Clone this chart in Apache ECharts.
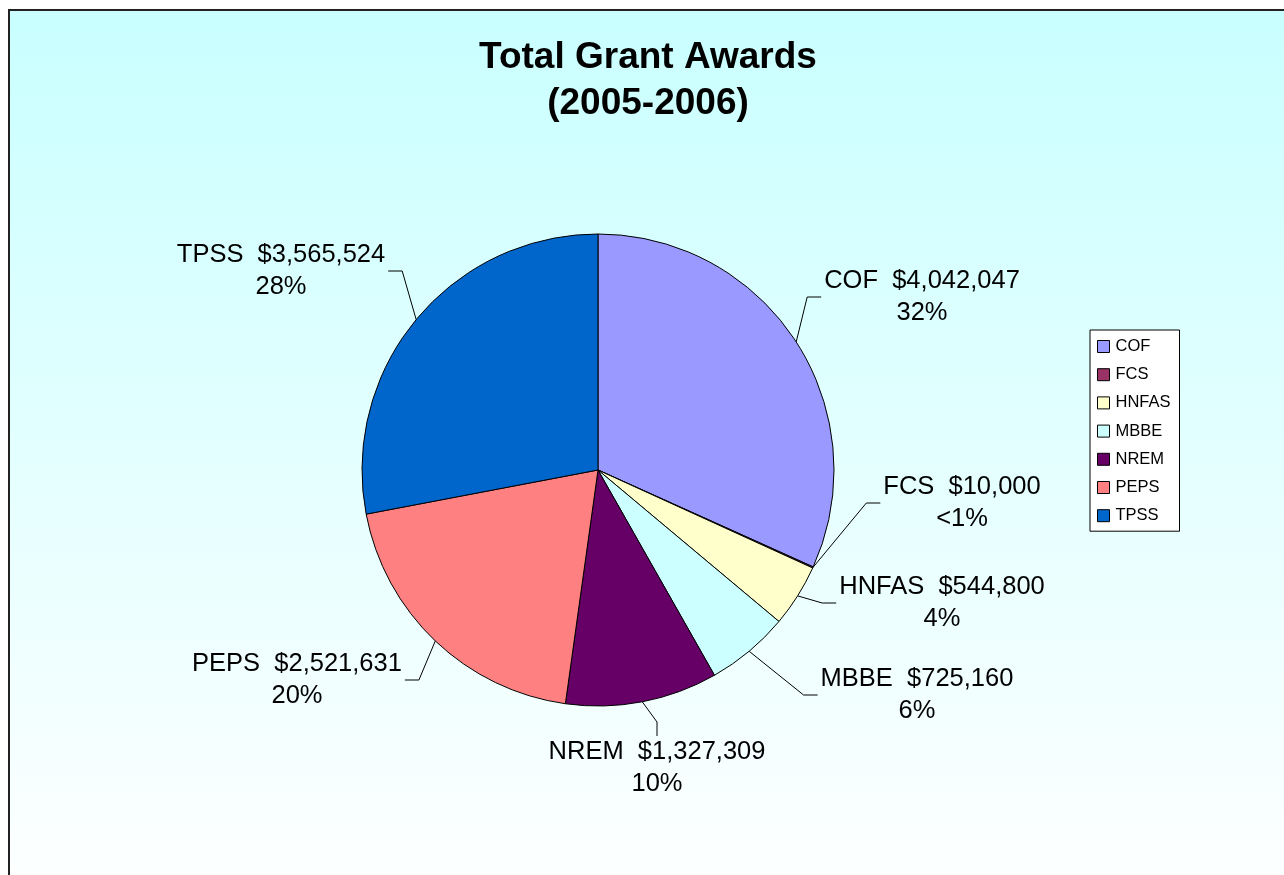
<!DOCTYPE html>
<html>
<head>
<meta charset="utf-8">
<title>Total Grant Awards</title>
<script src="https://cdn.jsdelivr.net/npm/echarts@6/dist/echarts.min.js"></script>
<style>
  html, body { margin: 0; padding: 0; background: #fff; }
  #main { width: 1284px; height: 875px; }
</style>
</head>
<body>
<div id="main"></div>
<script>
// data
var categories = ['COF', 'FCS', 'HNFAS', 'MBBE', 'NREM', 'PEPS', 'TPSS']
var awards = [4042047, 10000, 544800, 725160, 1327309, 2521631, 3565524]
var colors = ['#9999ff', '#993366', '#ffffcc', '#ccffff', '#660066', '#ff8080', '#0066cc']

// where each label sits (centre of the text block)
var labelSpots = [[922, 297], [962, 503], [942, 603], [917, 695], [657, 768], [297, 680], [281, 271]]

var font = 'Liberation Sans, Arial, sans-serif'

function money (v) {
  return '$' + v.toString().replace(/\B(?=(\d{3})+(?!\d))/g, ',')
}

var chart = echarts.init(document.getElementById('main'))
chart.setOption({
  animation: false,
  color: colors,
  graphic: [
    {
      type: 'rect',
      z: -10,
      shape: { x: 9, y: 10, width: 1300, height: 900 },
      style: {
        fill: new echarts.graphic.LinearGradient(0, 0, 0, 1, [
          { offset: 0, color: '#c9ffff' },
          { offset: 1, color: '#ffffff' }
        ]),
        stroke: '#222',
        lineWidth: 2
      }
    }
  ],
  title: {
    text: 'Total Grant Awards\n(2005-2006)',
    left: 648,
    top: 35,
    padding: 0,
    textAlign: 'center',
    textStyle: {
      fontFamily: font,
      fontSize: 37,
      fontWeight: 'bold',
      lineHeight: 46,
      color: '#000'
    }
  },
  legend: {
    orient: 'vertical',
    left: 1090,
    top: 330,
    padding: [8, 9, 7, 7],
    backgroundColor: '#fff',
    borderColor: '#000',
    borderWidth: 1,
    itemWidth: 12,
    itemHeight: 12,
    itemGap: 11.2,
    icon: 'rect',
    itemStyle: { borderColor: '#000', borderWidth: 1 },
    textStyle: { fontFamily: font, fontSize: 16.5, lineHeight: 16, color: '#000', padding: [0, 0, 0, 1] },
    data: categories
  },
  series: [
    {
      type: 'pie',
      center: [598, 470],
      radius: 236,
      startAngle: 90,
      clockwise: true,
      avoidLabelOverlap: false,
      itemStyle: { borderColor: '#000', borderWidth: 1 },
      emphasis: { disabled: true },
      label: {
        show: true,
        fontFamily: font,
        fontSize: 25.5,
        lineHeight: 32,
        color: '#000',
        align: 'center',
        padding: [0, 3],
        formatter: function (p) {
          var pct = Math.round(p.percent)
          return p.name + '  ' + money(p.value) + '\n' + (p.percent < 1 ? '<1' : pct) + '%'
        }
      },
      labelLine: {
        show: true,
        length: 20,
        length2: 14,
        lineStyle: { color: '#000', width: 1 }
      },
      labelLayout: function (params) {
        var spot = labelSpots[params.dataIndex]
        return {
          x: spot[0],
          y: spot[1],
          align: 'center',
          verticalAlign: 'middle'
        }
      },
      data: categories.map(function (name, i) {
        return { name: name, value: awards[i] }
      })
    }
  ]
})
</script>
</body>
</html>
